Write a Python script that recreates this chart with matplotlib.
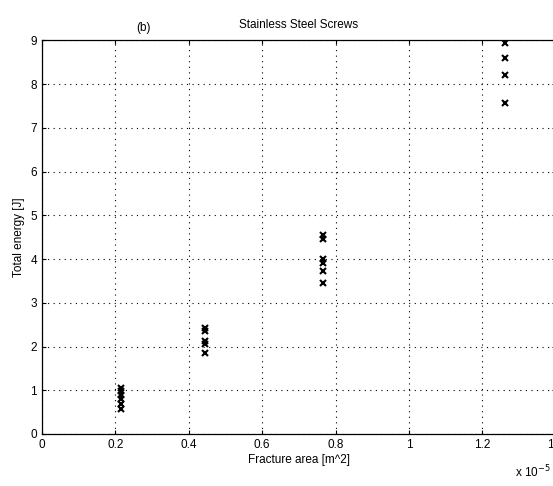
import matplotlib
matplotlib.use('Agg')
import matplotlib.pyplot as plt

# fracture area in units of 1e-5 m^2, total energy in J
area_1 = [0.214, 0.214, 0.214, 0.214, 0.214, 0.214]
energy_1 = [0.58, 0.68, 0.8, 0.9, 0.98, 1.06]
area_2 = [0.444, 0.444, 0.444, 0.444, 0.444]
energy_2 = [1.85, 2.05, 2.12, 2.35, 2.42]
area_3 = [0.767, 0.767, 0.767, 0.767, 0.767, 0.767]
energy_3 = [3.46, 3.73, 3.9, 4.0, 4.45, 4.56]
area_4 = [1.262, 1.262, 1.262, 1.262]
energy_4 = [7.56, 8.2, 8.6, 8.95]

x_ticks = [0, 0.2, 0.4, 0.6, 0.8, 1, 1.2, 1.4]
x_ticklabels = ['0', '0.2', '0.4', '0.6', '0.8', '1', '1.2', '1.4']
y_ticks = list(range(0, 10))

plt.rcParams['font.family'] = ['Liberation Sans', 'DejaVu Sans']
plt.rcParams['font.size'] = 8.5

fig = plt.figure(figsize=(5.53, 4.86), dpi=100)
ax = fig.add_axes([0.076, 0.107, 0.929, 0.81])

for xs, ys in [(area_1, energy_1), (area_2, energy_2),
               (area_3, energy_3), (area_4, energy_4)]:
    ax.plot(xs, ys, linestyle='none', marker='x', color='black',
            markersize=5, markeredgewidth=1.5)

ax.set_xlim(0, 1.4)
ax.set_ylim(0, 9)
ax.set_xticks(x_ticks)
ax.set_xticklabels(x_ticklabels)
ax.set_yticks(y_ticks)
ax.tick_params(direction='in', top=True, right=True, length=3, width=0.8)
ax.grid(True, color='black', linestyle=(0, (1, 4)), linewidth=0.8)
for s in ax.spines.values():
    s.set_linewidth(0.9)

ax.set_xlabel('Fracture area [m^2]', labelpad=2)
ax.set_ylabel('Total energy [J]', labelpad=4)
ax.set_title('Stainless Steel Screws', pad=9, fontsize=8.5)
ax.text(0.198, 1.015, '(b)', transform=ax.transAxes, ha='center', va='bottom',
        fontsize=8.5)
fig.text(515 / 553, 1 - 472 / 486, r'x 10$^{-5}$', ha='left', va='center',
         fontsize=8.5)

fig.savefig('out.png', dpi=100)
